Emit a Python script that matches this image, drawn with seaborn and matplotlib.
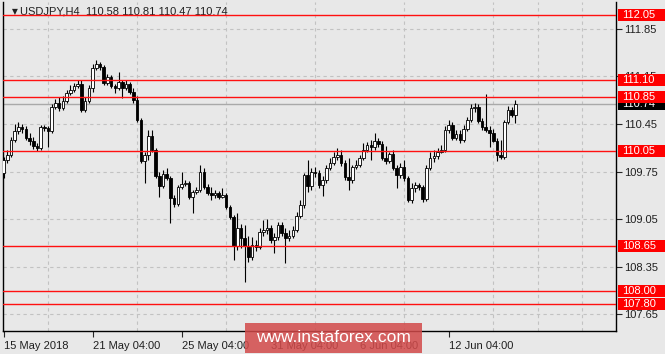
import numpy as np
import pandas as pd
import matplotlib
matplotlib.use("Agg")
import matplotlib.pyplot as plt
import seaborn as sns
from matplotlib.patches import Rectangle
from matplotlib.transforms import blended_transform_factory

# ---------------- data ----------------
symbol = "USDJPY,H4"
opens = [109.73, 109.92, 109.99, 110.21, 110.35, 110.41, 110.38, 110.24, 110.20, 110.13,
         110.10, 110.41, 110.39, 110.35, 110.70, 110.76, 110.69, 110.79, 110.91, 110.95,
         111.01, 111.04, 110.66, 110.79, 110.98, 111.27, 111.33, 111.29, 111.05, 111.14,
         111.01, 110.98, 111.07, 110.98, 111.04, 110.92, 110.80, 110.51, 109.91, 110.00,
         110.27, 110.07, 109.69, 109.54, 109.72, 109.66, 109.36, 109.27, 109.52, 109.57,
         109.58, 109.38, 109.45, 109.48, 109.74, 109.52, 109.44, 109.41, 109.44, 109.38,
         109.41, 109.23, 109.08, 108.66, 108.92, 108.77, 108.66, 108.49, 108.67, 108.64,
         108.86, 108.89, 108.92, 108.74, 108.79, 108.96, 108.85, 108.77, 108.80, 108.89,
         109.10, 109.26, 109.70, 109.54, 109.74, 109.73, 109.55, 109.63, 109.80, 109.88,
         109.96, 109.99, 109.88, 109.67, 109.63, 109.82, 109.85, 109.95, 110.07, 110.14,
         110.11, 110.20, 110.16, 109.95, 109.91, 110.01, 109.80, 109.70, 109.82, 109.66,
         109.33, 109.51, 109.55, 109.52, 109.35, 109.80, 109.95, 109.98, 110.04, 110.07,
         110.36, 110.44, 110.24, 110.30, 110.21, 110.38, 110.51, 110.69, 110.70, 110.49,
         110.41, 110.36, 110.32, 110.20, 110.00, 109.96, 110.48, 110.66, 110.58]
highs = [109.96, 110.07, 110.26, 110.45, 110.48, 110.45, 110.42, 110.32, 110.26, 110.17,
         110.44, 110.44, 110.42, 110.74, 110.82, 110.85, 110.86, 110.95, 111.02, 111.05,
         111.10, 111.10, 110.85, 111.02, 111.33, 111.39, 111.36, 111.32, 111.19, 111.17,
         111.04, 111.21, 111.10, 111.10, 111.07, 110.98, 110.86, 110.54, 110.04, 110.36,
         110.36, 110.10, 109.74, 109.77, 109.80, 109.69, 109.41, 109.55, 109.74, 109.63,
         109.61, 109.48, 109.52, 109.85, 109.80, 109.57, 109.52, 109.48, 109.47, 109.51,
         109.44, 109.26, 109.11, 109.14, 108.98, 108.97, 108.80, 108.79, 108.74, 108.92,
         109.04, 109.06, 108.97, 108.85, 109.01, 109.01, 108.92, 108.89, 108.95, 109.16,
         109.33, 109.73, 109.92, 109.80, 109.82, 109.77, 109.69, 109.85, 109.95, 110.04,
         110.10, 110.07, 109.92, 109.95, 109.85, 109.92, 110.00, 110.17, 110.18, 110.21,
         110.32, 110.24, 110.20, 110.13, 110.04, 110.07, 109.85, 109.88, 109.92, 109.69,
         109.58, 109.60, 109.58, 109.55, 109.85, 110.04, 110.07, 110.10, 110.14, 110.42,
         110.51, 110.48, 110.36, 110.36, 110.44, 110.55, 110.74, 110.76, 110.74, 110.54,
         110.89, 110.42, 110.38, 110.24, 110.21, 110.51, 110.72, 110.70, 110.81]
lows = [109.66, 109.87, 109.96, 110.18, 110.30, 110.32, 110.21, 110.14, 110.08, 110.05,
        110.07, 110.35, 110.11, 110.32, 110.67, 110.64, 110.66, 110.76, 110.88, 110.92,
        110.98, 110.63, 110.63, 110.76, 110.92, 111.24, 111.24, 111.02, 111.02, 110.98,
        110.91, 110.95, 110.83, 110.95, 110.89, 110.76, 110.48, 109.88, 109.58, 109.92,
        110.04, 109.66, 109.38, 109.51, 109.63, 108.99, 109.23, 109.24, 109.49, 109.54,
        109.35, 109.14, 109.42, 109.45, 109.49, 109.41, 109.33, 109.36, 109.35, 109.36,
        109.20, 109.05, 108.45, 108.60, 108.63, 108.13, 108.42, 108.45, 108.58, 108.61,
        108.80, 108.83, 108.70, 108.55, 108.74, 108.80, 108.40, 108.73, 108.77, 108.86,
        109.07, 109.21, 109.45, 109.48, 109.67, 109.51, 109.39, 109.58, 109.77, 109.85,
        109.92, 109.83, 109.63, 109.48, 109.58, 109.79, 109.82, 109.92, 110.04, 109.92,
        110.07, 110.11, 109.92, 109.86, 109.88, 109.77, 109.51, 109.66, 109.61, 109.30,
        109.29, 109.45, 109.48, 109.30, 109.32, 109.77, 109.89, 109.94, 110.02, 110.04,
        110.32, 110.21, 110.21, 110.17, 110.18, 110.35, 110.48, 110.63, 110.46, 110.36,
        110.33, 110.11, 110.18, 109.91, 109.93, 109.94, 110.45, 110.55, 110.47]
closes = [109.92, 109.99, 110.21, 110.35, 110.41, 110.38, 110.24, 110.20, 110.13, 110.10,
          110.41, 110.39, 110.35, 110.70, 110.76, 110.69, 110.79, 110.91, 110.95, 111.01,
          111.04, 110.66, 110.79, 110.98, 111.27, 111.33, 111.29, 111.05, 111.14, 111.01,
          110.98, 111.07, 110.98, 111.04, 110.92, 110.80, 110.51, 109.91, 110.00, 110.27,
          110.07, 109.69, 109.54, 109.72, 109.66, 109.36, 109.27, 109.52, 109.57, 109.58,
          109.38, 109.45, 109.48, 109.74, 109.52, 109.44, 109.41, 109.44, 109.38, 109.41,
          109.23, 109.08, 108.66, 108.92, 108.77, 108.66, 108.49, 108.67, 108.64, 108.86,
          108.89, 108.92, 108.74, 108.79, 108.96, 108.85, 108.77, 108.80, 108.89, 109.10,
          109.26, 109.70, 109.54, 109.74, 109.73, 109.55, 109.63, 109.80, 109.88, 109.96,
          109.99, 109.88, 109.67, 109.63, 109.82, 109.85, 109.95, 110.07, 110.14, 110.11,
          110.20, 110.16, 109.95, 109.91, 110.01, 109.80, 109.70, 109.82, 109.66, 109.33,
          109.51, 109.55, 109.52, 109.35, 109.80, 109.95, 109.98, 110.04, 110.07, 110.36,
          110.44, 110.24, 110.30, 110.21, 110.38, 110.51, 110.69, 110.70, 110.49, 110.41,
          110.36, 110.32, 110.20, 110.00, 109.96, 110.48, 110.66, 110.58, 110.74]

level_prices = [112.05, 111.10, 110.85, 110.05, 108.65, 108.00, 107.80]
current_price = 110.74
y_ticks = [107.65, 108.35, 109.05, 109.75, 110.45, 111.15, 111.85]
x_tick_bars = [0, 24, 48, 72, 96, 120]
x_tick_labels = ["15 May 2018", "21 May 04:00", "25 May 04:00",
                 "31 May 04:00", "6 Jun 04:00", "12 Jun 04:00"]
watermark = "www.instaforex.com"

df = pd.DataFrame({"open": opens, "high": highs, "low": lows, "close": closes})
df["bar"] = np.arange(len(df))
df["bull"] = df["close"] >= df["open"]

# ---------------- style ----------------
sns.set_style("white")
plt.rcParams["font.family"] = ["Liberation Sans", "DejaVu Sans"]
BG = "#e8e8e8"

fig = plt.figure(figsize=(6.65, 3.54), dpi=100, facecolor=BG)
ax = fig.add_axes([3 / 665, 1 - 331 / 354, 613 / 665, 329 / 354])
ax.set_facecolor(BG)

# wicks
ax.vlines(df["bar"], df["low"], df["high"], color="black", lw=0.8, zorder=4)
# bodies
body_bottom = np.minimum(df["open"], df["close"])
body_height = np.maximum(np.abs(df["close"] - df["open"]), 0.012)
ax.bar(df["bar"], body_height, bottom=body_bottom, width=0.7,
       color=np.where(df["bull"], "white", "black"),
       edgecolor="black", linewidth=0.6, zorder=5)

# level lines
ax.axhline(current_price, color="#a9a9a9", lw=1.0, zorder=2)
for lv in level_prices:
    ax.axhline(lv, color="#ff1010", lw=1.0, zorder=6)

ax.set_xlim(-0.15, 165.1)
ax.set_ylim(107.406, 112.244)

# grid
ax.set_yticks(y_ticks)
ax.set_xticks(x_tick_bars)
ax.set_xticklabels(x_tick_labels, ha="left")
ax.set_xticks(np.arange(12, 165, 12), minor=True)
ax.grid(axis="y", which="major", ls=(0, (3, 3)), color="#c2c2c2", lw=0.8, zorder=0)
ax.grid(axis="x", which="minor", ls=(0, (3, 3)), color="#c2c2c2", lw=0.8, zorder=0)
ax.set_axisbelow(True)

ax.yaxis.tick_right()
ax.tick_params(axis="y", which="major", right=True, left=False, length=4,
               width=0.8, labelsize=8, labelcolor="#202020", pad=2)
ax.tick_params(axis="x", which="major", bottom=True, length=4, width=0.8,
               labelsize=8, labelcolor="#202020", pad=3)
ax.tick_params(axis="x", which="minor", length=0)
ax.set_yticklabels([f"{v:.2f}" for v in y_ticks])

for side in ["left", "bottom", "right"]:
    ax.spines[side].set_visible(True)
    ax.spines[side].set_color("black")
    ax.spines[side].set_linewidth(1.0)
ax.spines["top"].set_visible(False)

# price boxes on the right axis
tr = blended_transform_factory(ax.transAxes, ax.transData)
box_h = 12 / 68.0
box_x = 1.0033
box_w = 47 / 613

ax.add_patch(Rectangle((box_x, current_price - box_h / 2), box_w, box_h,
                       transform=tr, facecolor="black", edgecolor="none",
                       clip_on=False, zorder=7))
ax.text(box_x + 0.0065, current_price, f"{current_price:.2f}", transform=tr,
        color="white", fontsize=8, va="center", ha="left", clip_on=False, zorder=8)
for lv in level_prices:
    ax.add_patch(Rectangle((box_x, lv - box_h / 2), box_w, box_h,
                           transform=tr, facecolor="#ff0000", edgecolor="none",
                           clip_on=False, zorder=9))
    ax.text(box_x + 0.0065, lv, f"{lv:.2f}", transform=tr, color="white",
            fontsize=8, va="center", ha="left", clip_on=False, zorder=10)

# header text
last = df.iloc[-1]
ax.text(9 / 613, (331 - 11.5) / 329, "\u25BC", transform=ax.transAxes,
        fontsize=5.5, family=["DejaVu Sans"], color="#202020", va="center", ha="left", zorder=3)
ax.text(17 / 613, (331 - 11.5) / 329,
        f"{symbol}  {last['open']:.2f} {last['high']:.2f} {last['low']:.2f} {last['close']:.2f}",
        transform=ax.transAxes, fontsize=8, color="#202020", va="center", ha="left", zorder=3)

# watermark
fig.add_artist(Rectangle((245 / 665, 1 - 353 / 354), 177 / 665, 30 / 354,
                         transform=fig.transFigure, facecolor="#d24a4a",
                         edgecolor="none", alpha=0.85, zorder=20))
fig.text((245 + 422) / 2 / 665, 1 - 338 / 354, watermark, color="white",
         fontsize=12.5, ha="center", va="center", zorder=21)

fig.savefig("out.png", dpi=100, facecolor=BG)
